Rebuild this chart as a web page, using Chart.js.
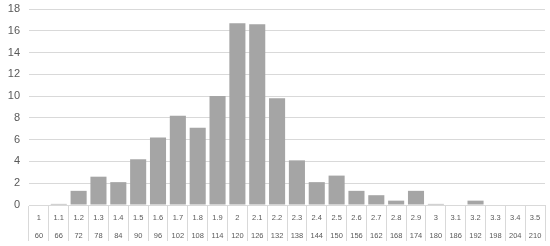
<!DOCTYPE html>
<html><head><meta charset="utf-8">
<script src="https://cdn.jsdelivr.net/npm/chart.js@4"></script>
<style>html,body{margin:0;padding:0;background:#fff}#wrap{width:550px;height:246px}</style>
</head><body><div id="wrap"><canvas id="c"></canvas></div>
<script>
const ratios = ["1","1.1","1.2","1.3","1.4","1.5","1.6","1.7","1.8","1.9","2","2.1","2.2","2.3","2.4","2.5","2.6","2.7","2.8","2.9","3","3.1","3.2","3.3","3.4","3.5"];
const minutes = ["60","66","72","78","84","90","96","102","108","114","120","126","132","138","144","150","156","162","168","174","180","186","192","198","204","210"];
const counts = [0,0.1,1.3,2.6,2.1,4.2,6.2,8.2,7.1,10,16.7,16.6,9.8,4.1,2.1,2.7,1.3,0.9,0.4,1.3,0.1,0,0.4,0,0,0];
const yTicks = [0,2,4,6,8,10,12,14,16,18];

const labels = ratios.map((r,i)=>[r, minutes[i]]);
new Chart(document.getElementById('c'), {
  type:'bar',
  data:{labels, datasets:[{data:counts, backgroundColor:'#a5a5a5', borderWidth:0, categoryPercentage:1, barPercentage:0.81}]},
  options:{
    responsive:true, maintainAspectRatio:false, animation:false,
    layout:{padding:{top:9,right:5,left:0,bottom:0}},
    plugins:{legend:{display:false}, tooltip:{enabled:false}},
    scales:{
      x:{
        grid:{offset:true, drawOnChartArea:false, tickLength:36, color:'#d9d9d9'},
        border:{color:'#d9d9d9'},
        ticks:{padding:-32, color:'#595959', font:{family:'Liberation Sans', size:7.5, lineHeight:2.35}, maxRotation:0, autoSkip:false},
        afterFit:s=>{s.height=41;}
      },
      y:{
        min:0, max:18,
        afterBuildTicks:s=>{s.ticks=yTicks.map(v=>({value:v}));},
        grid:{color:'#d9d9d9', drawTicks:false},
        border:{display:false},
        ticks:{padding:9, color:'#595959', font:{family:'Liberation Sans', size:11}},
        afterFit:s=>{s.width=29; s.paddingTop=0; s.paddingBottom=0;}
      }
    }
  }
});
</script></body></html>
